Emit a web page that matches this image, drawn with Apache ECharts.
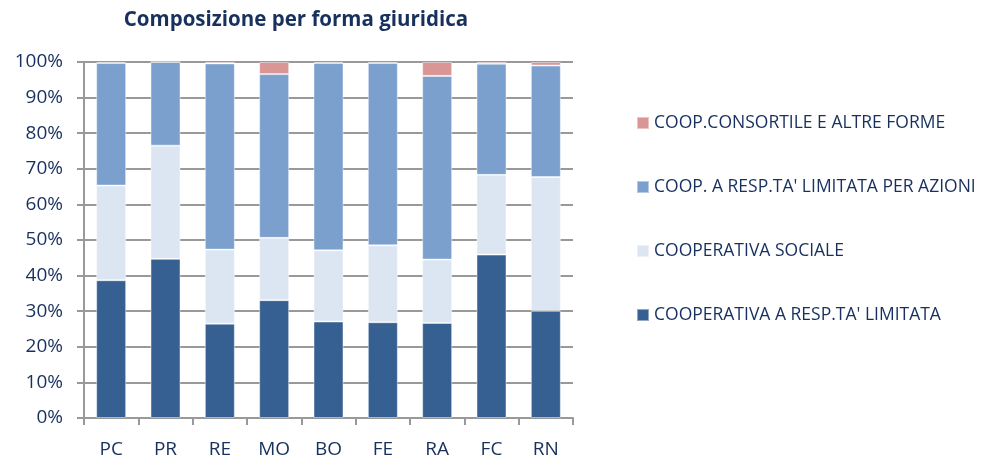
<!DOCTYPE html>
<html>
<head>
<meta charset="utf-8">
<script src="https://cdn.jsdelivr.net/npm/echarts@6/dist/echarts.min.js"></script>
<style>
  html, body { margin: 0; padding: 0; background: #fff; }
  #chart { width: 984px; height: 459px; }
</style>
</head>
<body>
<div id="chart"></div>
<script>
// Province categories
const provinces = ['PC', 'PR', 'RE', 'MO', 'BO', 'FE', 'RA', 'FC', 'RN'];

// Share of each legal form (%) per province
const cooperativaRespLimitata = [38.7, 44.7, 26.5, 33.1, 27.1, 26.9, 26.7, 45.9, 30.1];
const cooperativaSociale      = [26.6, 31.8, 20.8, 17.5, 20.0, 21.6, 17.8, 22.4, 37.6];
const coopRespLimitataAzioni  = [34.4, 23.5, 52.3, 46.0, 52.6, 51.2, 51.6, 31.2, 31.3];
const coopConsortileAltre     = [0.3, 0.0, 0.4, 3.4, 0.3, 0.3, 3.9, 0.5, 1.0];

const seriesNames = [
  'COOPERATIVA A RESP.TA\' LIMITATA',
  'COOPERATIVA SOCIALE',
  'COOP. A RESP.TA\' LIMITATA PER AZIONI',
  'COOP.CONSORTILE E ALTRE FORME'
];
const seriesValues = [cooperativaRespLimitata, cooperativaSociale, coopRespLimitataAzioni, coopConsortileAltre];
const seriesColors = ['#376092', '#DCE6F2', '#7BA0CD', '#D99694'];

const navy = '#17305E';
const font = 'Open Sans';

const chart = echarts.init(document.getElementById('chart'), null, { renderer: 'canvas' });

chart.setOption({
  animation: false,
  title: {
    text: 'Composizione per forma giuridica',
    left: 296,
    textAlign: 'center',
    top: 5,
    padding: 0,
    textStyle: { fontFamily: font, fontWeight: 'bold', fontSize: 20.5, color: navy, lineHeight: 30 }
  },
  legend: {
    orient: 'vertical',
    left: 636,
    top: 111,
    padding: 0,
    itemWidth: 12,
    itemHeight: 12,
    itemGap: 40,
    icon: 'rect',
    data: seriesNames.slice().reverse(),
    textStyle: { fontFamily: font, fontSize: 17.5, color: navy, lineHeight: 24 }
  },
  grid: { left: 84, right: 411, top: 62, bottom: 40, containLabel: false },
  xAxis: {
    type: 'category',
    data: provinces,
    axisLine: { lineStyle: { color: '#999', width: 2 } },
    axisTick: { show: true, length: 7, lineStyle: { color: '#999', width: 2 } },
    axisLabel: { fontFamily: font, fontSize: 19, color: navy, margin: 22 }
  },
  yAxis: {
    type: 'value',
    min: 0,
    max: 100,
    interval: 10,
    axisLine: { show: true, lineStyle: { color: '#999', width: 2 } },
    axisTick: { show: true, length: 7, lineStyle: { color: '#999', width: 2 } },
    axisLabel: { formatter: '{value}%', fontFamily: font, fontSize: 19, color: navy, margin: 21 },
    splitLine: { lineStyle: { color: '#999', width: 2 } }
  },
  series: seriesNames.map((name, i) => ({
    name: name,
    type: 'bar',
    stack: 'total',
    barWidth: 30,
    data: seriesValues[i],
    itemStyle: { color: seriesColors[i], borderColor: 'rgba(255,255,255,0.45)', borderWidth: 1 }
  }))
});
</script>
</body>
</html>
